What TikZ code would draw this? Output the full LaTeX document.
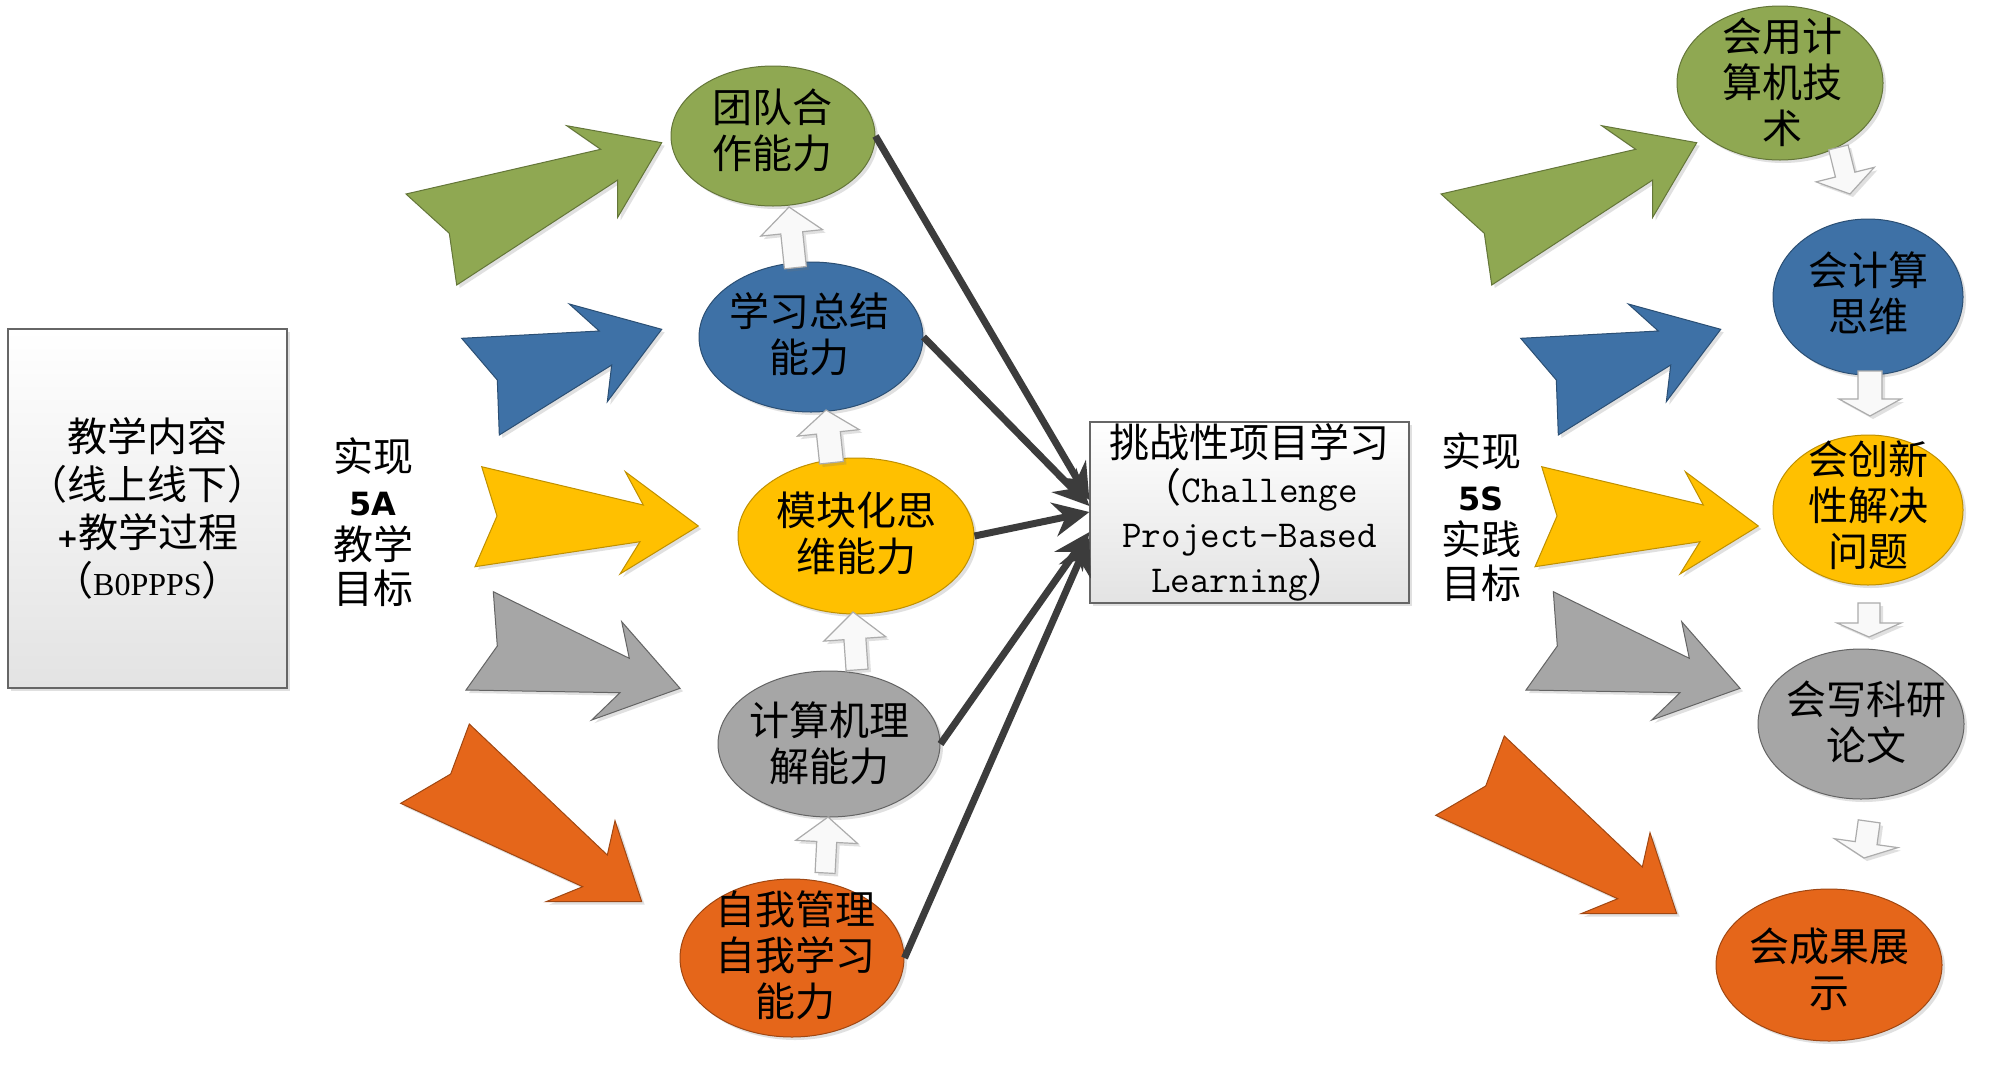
\documentclass[tikz,border=0pt]{standalone}
\usepackage{fontspec}
\setmainfont{Liberation Serif}
\newfontfamily\cjk{Noto Sans CJK SC}
\newfontfamily\dvs{DejaVu Sans}
\usetikzlibrary{shapes.geometric,arrows.meta,shadows}
\definecolor{cg}{HTML}{8FA852}
\definecolor{cb}{HTML}{3E71A6}
\definecolor{cy}{HTML}{FFC000}
\definecolor{cgr}{HTML}{A6A6A6}
\definecolor{co}{HTML}{E5661A}
\definecolor{darkln}{HTML}{3C3C3C}
\newcommand\blockup[7]{%
  \begin{scope}[shift={(#1,#2)},rotate=#3]
    \path[blk] (0,0) -- (#6,#5) -- (#7,#5) -- (#7,#4) -- (-#7,#4) -- (-#7,#5) -- (-#6,#5) -- cycle;
  \end{scope}}
\newcommand\blockdown[7]{%
  \begin{scope}[shift={(#1,#2)},rotate=#3]
    \path[blk] (0,0) -- (#6,-#5) -- (#7,-#5) -- (#7,-#4) -- (-#7,-#4) -- (-#7,-#5) -- (-#6,-#5) -- cycle;
  \end{scope}}
\tikzset{
  shd/.style={drop shadow={shadow xshift=1.5pt,shadow yshift=-1.5pt,opacity=0.22,fill=black!55}},
  bigarr/.style={shd,line width=0.5pt,line join=miter},
  ell/.style={ellipse,shd,inner sep=0pt,line width=0.5pt},
  txt/.style={align=center,inner sep=0pt,font=\cjk\fontsize{20pt}{23pt}\selectfont},
  blk/.style={shd,fill=white!95!gray,draw=gray!65,line width=0.6pt},
  connx/.style={draw=darkln,line width=3.5pt,-{Stealth[length=18pt,width=17pt]}},
  rbox/.style={rectangle,draw=gray!80!black,line width=0.6pt,top color=white,bottom color=gray!22,shd,inner sep=0pt,align=center},
  garrow/.pic={\path[bigarr,fill=cg,draw=cg!70!black] (661.7,142.7) -- (617.7,217.3) -- (617.7,180) -- (456.7,285) -- (449.3,233.3) -- (406,194) -- (600.7,149.3) -- (566.7,125.7) -- cycle;},
  barrow/.pic={\path[bigarr,fill=cb,draw=cb!70!black] (661.7,329.3) -- (607.3,401.7) -- (611.7,365) -- (499.3,435) -- (497.3,380) -- (461.7,338.3) -- (599.3,331) -- (569.3,304) -- cycle;},
  yarrow/.pic={\path[bigarr,fill=cy,draw=cy!75!black] (698.3,526) -- (620,574) -- (640,541.7) -- (475,566.7) -- (497,516) -- (481.7,466.7) -- (643.3,505) -- (625.3,471.7) -- cycle;},
  grarrow/.pic={\path[bigarr,fill=cgr,draw=cgr!60!black] (680,688.3) -- (591.7,720) -- (620,692.7) -- (466,690) -- (497.3,646) -- (493.3,591.7) -- (629.3,658.3) -- (621.7,621.7) -- cycle;},
  oarrow/.pic={\path[bigarr,fill=co,draw=co!70!black] (641.7,901.7) -- (546,901.7) -- (582.7,886.7) -- (400.7,803.3) -- (450.7,774) -- (469.3,724) -- (607.3,855) -- (615,820.7) -- cycle;}
}
\begin{document}
\begin{tikzpicture}[x=0.5pt,y=-0.5pt]
\fill[white] (0,0) rectangle (2000,1072);
\useasboundingbox (0,0) rectangle (2000,1072);

% left source box
\node[rbox,minimum width=139.5pt,minimum height=179.5pt,font=\cjk\fontsize{20pt}{24pt}\selectfont] (src) at (147.5,508.5)
  {教学内容\\（线上线下）\\{\dvs\bfseries\fontsize{13pt}{24pt}\selectfont +}教学过程\\（{\rmfamily\fontsize{16pt}{24pt}\selectfont B0PPPS}）};

\node[txt,font=\cjk\fontsize{20pt}{22pt}\selectfont] (goalA) at (373,522)
  {实现\\{\dvs\bfseries\fontsize{16pt}{22pt}\selectfont 5A}\\教学\\目标};

% left big arrows
\pic at (0,0) {garrow};
\pic at (0,0) {barrow};
\pic at (0,0) {yarrow};
\pic at (0,0) {grarrow};
\pic at (0,0) {oarrow};

% left ellipses
\node[ell,fill=cg,draw=cg!70!black,minimum width=102pt,minimum height=70pt] (a1) at (773,136) {};
\node[ell,fill=cb,draw=cb!70!black,minimum width=112pt,minimum height=75pt] (a2) at (811,337) {};
\node[ell,fill=cy,draw=cy!75!black,minimum width=118pt,minimum height=78pt] (a3) at (856,536) {};
\node[ell,fill=cgr,draw=cgr!60!black,minimum width=111pt,minimum height=73pt] (a4) at (829,744) {};
\node[ell,fill=co,draw=co!70!black,minimum width=112pt,minimum height=79pt] (a5) at (792,958) {};
\node[txt] at (772,130) {团队合\\作能力};
\node[txt] at (809,334) {学习总结\\能力};
\node[txt] at (856,533) {模块化思\\维能力};
\node[txt] at (829,743) {计算机理\\解能力};
\node[txt] at (795,955) {自我管理\\自我学习\\能力};

% up arrows between left ellipses
\blockup{789}{207}{6}{61}{26}{31}{11}
\blockup{826}{410}{6}{53}{23}{31}{12}
\blockup{853}{612}{4}{58}{27}{31}{11}
\blockup{828}{817}{-3}{56}{25}{31}{10}

% centre box
\node[rbox,minimum width=159.5pt,minimum height=90.5pt,font=\cjk\fontsize{20pt}{22.5pt}\selectfont] (pbl) at (1249.5,512.5)
  {挑战性项目学习\\（{\ttfamily\fontsize{19pt}{22.5pt}\selectfont Challenge}\\{\ttfamily\fontsize{19pt}{22.5pt}\selectfont Project-Based}\\{\ttfamily\fontsize{19pt}{22.5pt}\selectfont Learning}）};

\node[txt,font=\cjk\fontsize{20pt}{22pt}\selectfont] (goalS) at (1481,517)
  {实现\\{\dvs\bfseries\fontsize{16pt}{22pt}\selectfont 5S}\\实践\\目标};

% right big arrows
\pic at (1035,0) {garrow};
\pic at (1059,0) {barrow};
\pic at (1060,0) {yarrow};
\pic at (1060,0) {grarrow};
\pic at (1035,12) {oarrow};

% right ellipses
\node[ell,fill=cg,draw=cg!70!black,minimum width=103pt,minimum height=77pt] (b1) at (1780,83) {};
\node[ell,fill=cb,draw=cb!70!black,minimum width=95pt,minimum height=78pt] (b2) at (1868,297) {};
\node[ell,fill=cy,draw=cy!75!black,minimum width=95pt,minimum height=75pt] (b3) at (1868,510) {};
\node[ell,fill=cgr,draw=cgr!60!black,minimum width=103pt,minimum height=75pt] (b4) at (1861,724) {};
\node[ell,fill=co,draw=co!70!black,minimum width=113pt,minimum height=76pt] (b5) at (1829,965) {};
\node[txt] at (1782,82) {会用计\\算机技\\术};
\node[txt] at (1868,293) {会计算\\思维};
\node[txt] at (1868,505) {会创新\\性解决\\问题};
\node[txt] at (1866,722) {会写科研\\论文};
\node[txt] at (1829,969) {会成果展\\示};

% down arrows between right ellipses
\blockdown{1850}{194}{14}{48}{20}{30}{10}
\blockdown{1870}{416}{0}{45}{17}{31}{12}
\blockdown{1869}{637}{0}{34}{14}{32}{11}
\blockdown{1864}{858}{-8}{37}{15}{32}{11}

% connectors into the centre box
\draw[connx] (a1.east) -- ([yshift=6.25pt]pbl.west);
\draw[connx] (a2.east) -- ([yshift=3.25pt]pbl.west);
\draw[connx] (a3.east) -- ([yshift=0.25pt]pbl.west);
\draw[connx] (a4.east) -- ([yshift=-9.75pt]pbl.west);
\draw[connx] (a5.east) -- ([yshift=-12.75pt]pbl.west);
\end{tikzpicture}
\end{document}
